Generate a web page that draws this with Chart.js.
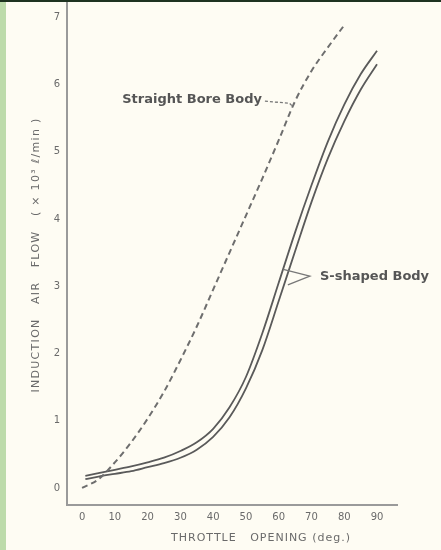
<!DOCTYPE html>
<html>
<head>
<meta charset="utf-8">
<script src="https://cdn.jsdelivr.net/npm/chart.js@4/dist/chart.umd.min.js"></script>
<style>
  html, body { margin: 0; padding: 0; background: #fefcf3; }
  #wrap { position: relative; width: 441px; height: 550px; overflow: hidden; background: #fefcf3; }
  #edgeLeft { position: absolute; left: 0; top: 0; width: 6px; height: 550px; background: #bddbaa; }
  #edgeTop { position: absolute; left: 0; top: 0; width: 441px; height: 2px; background: #1e3320; }
  canvas { position: absolute; left: 0; top: 0; }
</style>
</head>
<body>
<div id="wrap">
  <canvas id="chart" width="441" height="550"></canvas>
  <div id="edgeLeft"></div>
  <div id="edgeTop"></div>
</div>
<script>
// Throttle opening (deg.) sample points
const sShapedAngles = [1, 5, 10, 15, 20, 25, 30, 35, 40, 45, 50, 55, 60, 65, 70, 75, 80, 85, 90];
// S-shaped body, two test curves (x10^3 l/min)
const sShapedUpper = [0.18, 0.22, 0.27, 0.32, 0.38, 0.45, 0.55, 0.68, 0.88, 1.2, 1.65, 2.3, 3.05, 3.8, 4.5, 5.15, 5.7, 6.15, 6.5];
const sShapedLower = [0.13, 0.17, 0.21, 0.25, 0.31, 0.37, 0.45, 0.57, 0.76, 1.05, 1.48, 2.05, 2.78, 3.52, 4.25, 4.9, 5.45, 5.92, 6.3];
// Straight bore body
const straightAngles = [0, 5, 10, 15, 20, 25, 30, 35, 40, 45, 50, 55, 60, 65, 70, 75, 80];
const straightFlow = [0, 0.13, 0.38, 0.68, 1.03, 1.43, 1.9, 2.4, 2.95, 3.5, 4.05, 4.6, 5.17, 5.75, 6.2, 6.55, 6.88];

// Axis ticks
const xTicks = [0, 10, 20, 30, 40, 50, 60, 70, 80, 90];
const yTicks = [0, 1, 2, 3, 4, 5, 6, 7];

const xTitle = 'THROTTLE   OPENING (deg.)';
const yTitle = 'INDUCTION   AIR   FLOW   ( \u00d7 10\u00b3 \u2113/min )';

const toPoints = (xs, ys) => xs.map((x, i) => ({ x: x, y: ys[i] }));

const INK = '#5a5a5a';
const TEXT = '#6a6a6a';
const AXIS = '#9a9a9a';

// Callout labels with leader lines and axis titles
const calloutPlugin = {
  id: 'callouts',
  afterDatasetsDraw(chart) {
    const { ctx, chartArea, scales: { x, y } } = chart;
    const px = v => x.getPixelForValue(v);
    const py = v => y.getPixelForValue(v);
    ctx.save();
    ctx.fillStyle = '#555';
    ctx.font = 'bold 13px "DejaVu Sans", sans-serif';
    ctx.textBaseline = 'middle';

    // Straight Bore Body
    ctx.textAlign = 'right';
    ctx.fillText('Straight Bore Body', px(54.9), py(5.78));
    ctx.strokeStyle = '#777';
    ctx.lineWidth = 1.3;
    ctx.setLineDash([3, 2]);
    ctx.beginPath();
    ctx.moveTo(px(55.8), py(5.75));
    ctx.lineTo(px(63.3), py(5.72));
    ctx.lineTo(px(64.3), py(5.67));
    ctx.stroke();
    ctx.setLineDash([]);

    // S-shaped Body
    ctx.textAlign = 'left';
    ctx.fillText('S-shaped Body', px(72.6), py(3.14));
    ctx.beginPath();
    ctx.moveTo(px(61.4), py(3.25));
    ctx.lineTo(px(69.5), py(3.15));
    ctx.lineTo(px(62.8), py(3.02));
    ctx.stroke();

    // axis titles
    ctx.fillStyle = TEXT;
    ctx.font = '11px "DejaVu Sans", sans-serif';
    ctx.letterSpacing = '1px';
    ctx.textAlign = 'center';
    ctx.fillText(xTitle, px(54.6), 538);

    ctx.font = '11px "DejaVu Sans", sans-serif';
    ctx.letterSpacing = '1.3px';
    ctx.translate(36, 255);
    ctx.rotate(-Math.PI / 2);
    ctx.fillText(yTitle, 0, 0);
    ctx.restore();
  }
};

new Chart(document.getElementById('chart'), {
  type: 'line',
  data: {
    datasets: [
      {
        label: 'Straight Bore Body',
        data: toPoints(straightAngles, straightFlow),
        borderColor: '#6e6e6e',
        borderWidth: 2,
        borderDash: [6, 4],
        pointRadius: 0,
        cubicInterpolationMode: 'monotone',
        fill: false
      },
      {
        label: 'S-shaped Body (upper)',
        data: toPoints(sShapedAngles, sShapedUpper),
        borderColor: INK,
        borderWidth: 1.8,
        pointRadius: 0,
        cubicInterpolationMode: 'monotone',
        fill: false
      },
      {
        label: 'S-shaped Body (lower)',
        data: toPoints(sShapedAngles, sShapedLower),
        borderColor: INK,
        borderWidth: 1.8,
        pointRadius: 0,
        cubicInterpolationMode: 'monotone',
        fill: false
      }
    ]
  },
  options: {
    responsive: false,
    animation: false,
    events: [],
    layout: { padding: { left: 0, right: 44, top: 3, bottom: 0 } },
    plugins: {
      legend: { display: false },
      tooltip: { enabled: false }
    },
    scales: {
      x: {
        type: 'linear',
        min: -4.6,
        max: 96.1,
        grid: { display: false, drawTicks: false },
        border: { display: true, color: AXIS, width: 2 },
        afterBuildTicks(scale) { scale.ticks = xTicks.map(v => ({ value: v })); },
        afterFit(scale) {
          scale.height = 45;
          scale.paddingLeft = 0;
          scale.paddingRight = 0;
        },
        ticks: {
          color: TEXT,
          padding: 6,
          maxRotation: 0,
          autoSkip: false,
          font: { family: 'DejaVu Sans', size: 10 },
          callback: v => String(v)
        },
        title: { display: false }
      },
      y: {
        type: 'linear',
        min: -0.253,
        max: 7.21,
        grid: { display: false, drawTicks: false },
        border: { display: true, color: AXIS, width: 2 },
        afterBuildTicks(scale) { scale.ticks = yTicks.map(v => ({ value: v })); },
        afterFit(scale) {
          scale.width = 67;
          scale.paddingTop = 0;
          scale.paddingBottom = 0;
        },
        ticks: {
          color: TEXT,
          padding: 7,
          autoSkip: false,
          font: { family: 'DejaVu Sans', size: 10 },
          callback: v => String(v)
        },
        title: { display: false }
      }
    }
  },
  plugins: [calloutPlugin]
});
</script>
</body>
</html>
